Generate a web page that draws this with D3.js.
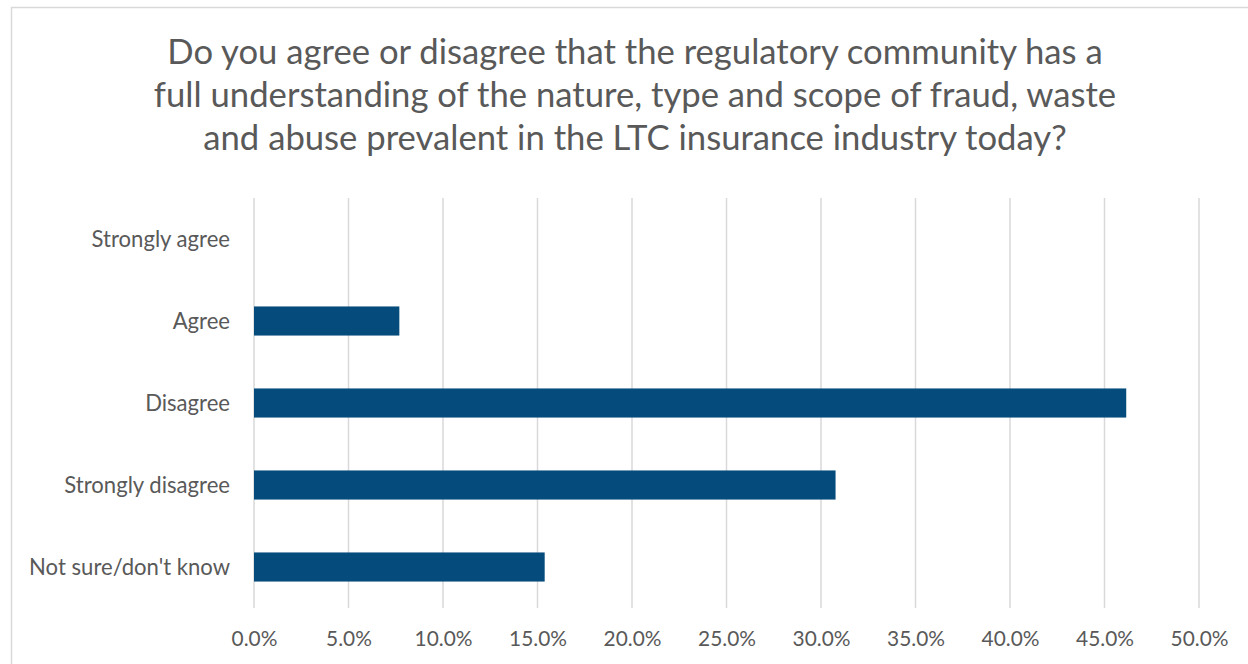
<!DOCTYPE html>
<html>
<head>
<meta charset="utf-8">
<script src="https://cdn.jsdelivr.net/npm/d3@7"></script>
<style>
  html, body { margin: 0; padding: 0; background: #fff; }
  svg { display: block; }
  text { font-family: Lato, "Open Sans", sans-serif; fill: #595959; }
</style>
</head>
<body>
<svg id="chart" width="1248" height="664"></svg>
<script>
// data
const categories = ["Strongly agree", "Agree", "Disagree", "Strongly disagree", "Not sure/don't know"];
const values = [0, 7.69, 46.15, 30.77, 15.38];
const tickValues = [0, 5, 10, 15, 20, 25, 30, 35, 40, 45, 50];
const titleLines = [
  "Do you agree or disagree that the regulatory community has a",
  "full understanding of the nature, type and scope of fraud, waste",
  "and abuse prevalent in the LTC insurance industry today?"
];

const width = 1248, height = 664;
const margin = { top: 198, right: 49, bottom: 56, left: 254 };

const svg = d3.select("#chart");

// chart frame (runs off the right and bottom edge)
svg.append("rect")
  .attr("x", 11.5).attr("y", 7.5)
  .attr("width", width + 20).attr("height", height + 20)
  .attr("fill", "#fff")
  .attr("stroke", "#d9d9d9")
  .attr("stroke-width", 1.5);

// shrink/grow a text so that it spans the given width
function fitText(sel, target, base) {
  sel.style("font-size", base + "px");
  const w = sel.node().getComputedTextLength();
  sel.style("font-size", (base * target / w) + "px");
}

// title
const title = svg.append("g").attr("class", "title");
const titleBase = [64, 107, 150];
titleLines.forEach((t, i) => {
  title.append("text")
    .attr("x", 635)
    .attr("y", titleBase[i])
    .attr("text-anchor", "middle")
    .text(t);
});
// size from first line's width
{
  const first = title.select("text");
  fitText(first, 936, 30);
  const fs = first.style("font-size");
  title.selectAll("text").style("font-size", fs);
}

const x = d3.scaleLinear()
  .domain([0, 50])
  .range([margin.left, width - margin.right]);

const y = d3.scaleBand()
  .domain(categories)
  .range([margin.top, height - margin.bottom])
  .paddingInner(0.645)
  .paddingOuter(0.3225);

// gridlines
svg.append("g")
  .selectAll("line")
  .data(tickValues)
  .enter()
  .append("line")
  .attr("x1", d => x(d)).attr("x2", d => x(d))
  .attr("y1", margin.top).attr("y2", height - margin.bottom)
  .attr("stroke", "#d9d9d9")
  .attr("stroke-width", 1.5);

// bars
svg.append("g")
  .selectAll("rect")
  .data(categories.map((c, i) => ({ c, v: values[i] })))
  .enter()
  .append("rect")
  .attr("x", x(0))
  .attr("y", d => y(d.c))
  .attr("width", d => x(d.v) - x(0))
  .attr("height", y.bandwidth())
  .attr("fill", "#054c7c");

// category labels
const tickFs = (() => {
  const probe = svg.append("text").text("Not sure/don't know");
  fitText(probe, 201, 20);
  const fs = probe.style("font-size");
  probe.remove();
  return fs;
})();

const yAxis = svg.append("g")
  .attr("transform", `translate(${margin.left},0)`)
  .call(d3.axisLeft(y).tickSize(0).tickPadding(24));
yAxis.select(".domain").remove();
yAxis.selectAll("text")
  .attr("fill", "#595959")
  .style("font-family", "Lato, 'Open Sans', sans-serif")
  .style("font-size", tickFs)
  .attr("dy", "0.35em");

// value axis labels
const xFs = (() => {
  const probe = svg.append("text").text("50.0%");
  fitText(probe, 58, 20);
  const fs = probe.style("font-size");
  probe.remove();
  return fs;
})();

const xAxis = svg.append("g")
  .attr("transform", `translate(0,${height - margin.bottom})`)
  .call(d3.axisBottom(x).tickValues(tickValues).tickSize(0).tickPadding(23)
    .tickFormat(d => d3.format(".1f")(d) + "%"));
xAxis.select(".domain").remove();
xAxis.selectAll("text")
  .attr("fill", "#595959")
  .style("font-family", "Lato, 'Open Sans', sans-serif")
  .style("font-size", xFs);
</script>
</body>
</html>
